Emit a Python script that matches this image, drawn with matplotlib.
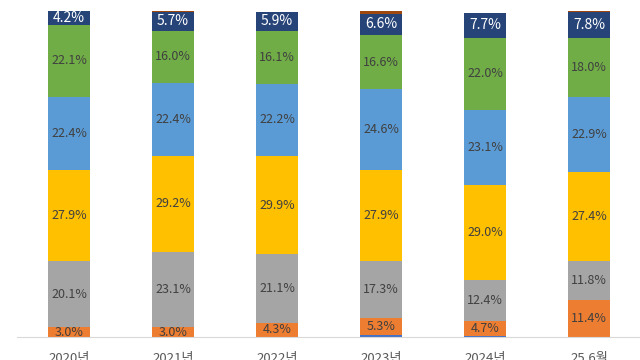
import matplotlib.pyplot as plt
import numpy as np

plt.rcParams['font.family'] = ['Noto Sans CJK KR', 'DejaVu Sans']

years = ['2020년', '2021년', '2022년', '2023년', '2024년', '25.6월']

# stacked bottom -> top
s_blue = [0.0, 0.0, 0.0, 0.6, 0.3, 0.0]
s_orange = [3.0, 3.0, 4.3, 5.3, 4.7, 11.4]
s_gray = [20.1, 23.1, 21.1, 17.3, 12.4, 11.8]
s_gold = [27.9, 29.2, 29.9, 27.9, 29.0, 27.4]
s_lblue = [22.4, 22.4, 22.2, 24.6, 23.1, 22.9]
s_green = [22.1, 16.0, 16.1, 16.6, 22.0, 18.0]
s_dblue = [4.2, 5.7, 5.9, 6.6, 7.7, 7.8]
s_dorange = [0.0, 0.4, 0.0, 0.9, 0.0, 0.4]

series = [s_blue, s_orange, s_gray, s_gold, s_lblue, s_green, s_dblue, s_dorange]
colors = ['#4472C4', '#ED7D31', '#A5A5A5', '#FFC000', '#5B9BD5', '#70AD47', '#264478', '#9E480E']
show_lbl = [False, True, True, True, True, True, True, False]

fig = plt.figure(figsize=(6.4, 3.6), dpi=100)
ax = fig.add_axes([17/640, 1 - 337/360, 624/640, 327/360])

x = np.arange(len(years))
bottom = np.zeros(len(years))
for vals, c, lbl in zip(series, colors, show_lbl):
    vals = np.array(vals)
    ax.bar(x, vals, 0.4, bottom=bottom, color=c, edgecolor='none')
    if lbl:
        tc = 'white' if c == '#264478' else '#404040'
        for xi, v, b in zip(x, vals, bottom):
            ax.text(xi, b + v / 2, f'{v:.1f}%', ha='center', va='center',
                    color=tc, fontsize=10 if tc == 'white' else 9)
    bottom += vals

ax.set_xlim(-0.5, 5.5)
ax.set_ylim(0, 100)
ax.set_xticks(x)
ax.set_xticklabels(years, color='#595959', fontsize=9.5)
ax.tick_params(axis='x', length=0, pad=10.5)
ax.set_yticks([])
for sp in ['top', 'right', 'left']:
    ax.spines[sp].set_visible(False)
ax.spines['bottom'].set_color('#D9D9D9')

fig.savefig('out.png', dpi=100)
